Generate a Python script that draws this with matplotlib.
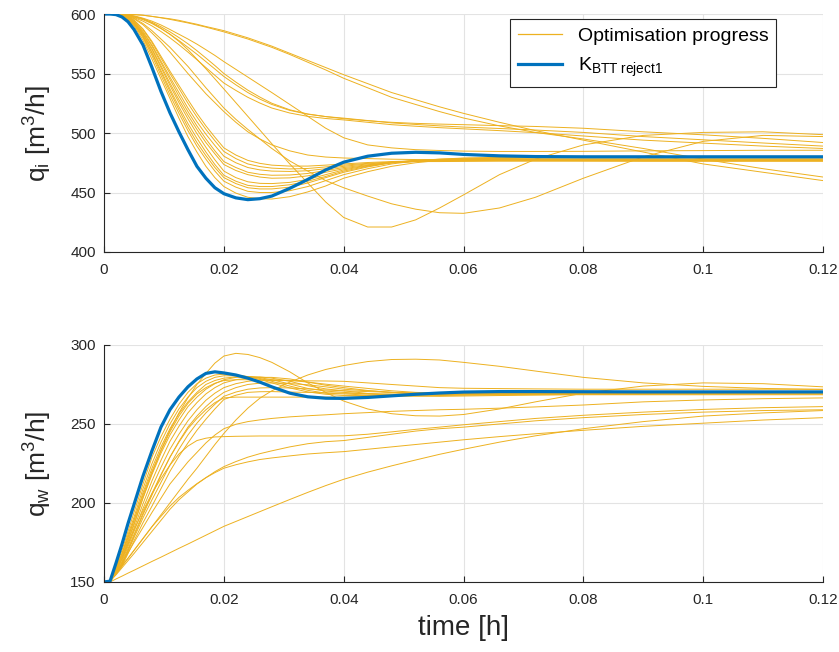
import numpy as np
import matplotlib
matplotlib.use("Agg")
import matplotlib.pyplot as plt

plt.rcParams["font.family"] = ["Liberation Sans", "DejaVu Sans"]
plt.rcParams["mathtext.fontset"] = "custom"
plt.rcParams["mathtext.rm"] = "Liberation Sans"
plt.rcParams["mathtext.it"] = "Liberation Sans"

ORANGE = "#EDB120"
BLUE = "#0072BD"
INK = "#262626"

# sample times [h]
t = [0, 0.001, 0.002, 0.003, 0.004, 0.005, 0.0065, 0.008, 0.0095, 0.011,
     0.0125, 0.014, 0.0155, 0.017, 0.0185, 0.020, 0.022, 0.024, 0.026, 0.028,
     0.031, 0.034, 0.037, 0.040, 0.044, 0.048, 0.052, 0.056, 0.060, 0.066,
     0.072, 0.080, 0.090, 0.100, 0.110, 0.120]

# q_i [m3/h] -- intermediate controllers seen during optimisation
qi_fast = [
    [600, 600, 599.5, 598, 595, 590, 578, 562, 545.5, 529, 512.5, 497, 484, 472, 462.5, 455, 449.5, 446, 444.8, 444.5,
     446.5, 450.5, 455.5, 462, 467.5, 472, 475, 477, 478, 479, 479.7, 480, 480, 480, 480, 480],
    [600, 600, 599.6, 598.5, 595.5, 591, 580, 565, 548.5, 532, 516.5, 502, 489, 478, 468, 459.5, 454.5, 451, 450, 450,
     451.5, 455, 460, 465, 470, 474, 476.5, 478, 479, 479.5, 480, 480, 480, 480, 480, 480],
    [600, 600, 599.6, 598.5, 595.8, 591.5, 581, 567, 551, 535, 519.5, 505, 492, 481, 471, 462.5, 457.5, 454, 453, 453,
     454.5, 458, 462.5, 467, 471.5, 475, 477, 478, 478.7, 479, 479.3, 479.5, 479.5, 479.5, 479.5, 479.5],
    [600, 600, 599.7, 599, 596.3, 592, 582, 568, 552.5, 537, 522, 508, 495.5, 484, 473.5, 464.5, 459.5, 456, 455, 455,
     456.5, 459.5, 463.5, 468, 472, 475, 476.8, 477.5, 478, 478.5, 478.8, 479, 479, 479, 479, 479],
    [600, 600, 599.7, 599, 596.5, 592.5, 583, 570, 555, 540, 525.5, 512, 499.5, 488, 477.5, 468, 462.5, 459, 457.7, 457.5,
     458.5, 461, 465, 469, 472.5, 475.5, 476.8, 477.5, 477.8, 478, 478, 478, 478, 478, 478, 478],
    [600, 600, 599.7, 599, 596.8, 593, 583.5, 571, 556.5, 542, 528, 515, 503, 492, 482.5, 473.5, 468.5, 465, 463, 462,
     462.3, 464, 467, 470, 472.8, 475, 476.2, 477, 477.3, 477.5, 477.5, 477.3, 477, 477, 477, 477],
    [600, 600, 599.8, 599.5, 597, 593.5, 584.5, 573, 559, 545, 531, 518, 506, 495, 485, 476, 471, 467, 465.3, 464.5,
     464.7, 466, 468.5, 471, 473.3, 475, 476, 476.5, 476.8, 477, 477, 476.8, 476.5, 476.5, 476.5, 476.5],
    [600, 600, 599.8, 599.5, 597.3, 594, 585.5, 574, 560.5, 547, 534, 521, 509.5, 499, 489.5, 480.5, 475, 471, 469, 468,
     467.7, 468.3, 470, 472, 474, 475.5, 476.2, 476.5, 476.5, 476.5, 476.5, 476.5, 476.5, 476.5, 476.5, 476.5],
    [600, 600, 599.8, 599.5, 597.5, 594.5, 587, 576, 563, 550, 537.5, 525, 513.5, 503, 493.5, 484.5, 478.5, 474, 471.8, 470.5,
     469.8, 470.2, 471.5, 473, 474.5, 475.5, 476, 476, 476.2, 476.5, 476.5, 476.5, 476.5, 476.5, 476.5, 476.5],
    [600, 600, 599.8, 599.5, 597.8, 595, 587.5, 577, 564.5, 552, 540, 528, 516.5, 506, 496.5, 487.5, 481.5, 477, 474.5, 473,
     472.2, 472.2, 473, 474, 475.2, 476, 476.6, 477, 477.3, 477.6, 477.8, 478, 478, 478, 478, 478],
    [600, 600, 599.7, 599, 597.8, 596, 591, 584, 576.5, 568, 559, 550, 541.5, 533, 525.5, 518, 509, 501, 495, 490,
     485, 481.5, 479.8, 479, 478.5, 478, 477.7, 477.5, 477.5, 477.5, 477.5, 477.5, 477.5, 477.5, 477.5, 477.5],
]
qi_mid = [
    [600, 600, 599.9, 599.7, 599.2, 598.5, 596.5, 594, 590.8, 587, 583, 579, 574.7, 570, 565.2, 560, 553.5, 547, 540.5, 534,
     524, 514, 504, 496, 490, 487.5, 486, 485.3, 484.8, 484.5, 484.5, 484.6, 485, 485.2, 485.5, 485.5],
    [600, 600, 599.8, 599.5, 599, 598, 596, 593, 589.3, 585, 580.2, 575, 569.2, 563, 556.7, 550, 542.8, 536, 530.2, 525,
     519.5, 516, 513.8, 512, 510.3, 509, 508.1, 507.5, 507, 506.2, 505.5, 504, 501, 498.5, 495.5, 492],
    [600, 600, 599.8, 599.5, 598.7, 597.5, 595.2, 592, 587.8, 583, 577.7, 572, 566.2, 560, 553.8, 547.5, 540.5, 534, 528.5, 524,
     519, 515.8, 513.8, 512.5, 510.5, 508.5, 507.2, 506, 505, 503.8, 502.5, 500.5, 497, 494.3, 491.6, 489],
    [600, 600, 599.8, 599.5, 598.5, 597, 594, 590, 585.3, 580, 574.2, 568, 561.6, 555, 548.5, 542, 535.8, 530, 525.2, 521,
     516.8, 514, 512.2, 511, 509, 507, 505.7, 504.5, 503.5, 502, 500.3, 497.5, 494, 491.5, 489, 487],
]
qi_slow = [
    [600, 600, 600, 600, 599.8, 599.5, 599, 598, 597, 596, 594.7, 593, 591.4, 589.5, 587.8, 586, 583, 580, 576.5, 573,
     567, 561, 555, 549, 541.5, 534, 528, 522, 516.5, 509, 502, 494, 484, 474, 467, 460],
    [600, 600, 600, 600, 599.8, 599.5, 599, 598, 596.8, 595.5, 594, 592.5, 590.8, 589, 587, 585, 582, 579, 575.5, 572,
     566, 559.5, 553, 546, 538, 530, 524, 518, 512.6, 506, 500.5, 495, 487, 478, 470, 463],
    [600, 600, 599.8, 599.5, 598.9, 598, 596, 592.5, 588, 583, 577, 570, 562, 554, 545.5, 537, 525.5, 514, 502.5, 491,
     474, 458, 442, 429, 421, 421, 427, 437, 448, 465, 478, 490, 498, 500.5, 501, 498.6],
    [600, 600, 599.8, 599, 598, 596.5, 592, 586, 579, 572, 564, 556, 547, 538, 529.5, 521, 511.5, 503, 495, 487,
     476.5, 468, 460, 454, 447, 440.5, 436, 433, 432.5, 437, 446, 462, 480, 493, 498, 497],
]
qi_best = [600, 600, 599.5, 597.5, 593.5, 587, 574, 555, 535, 517, 501, 486, 472, 462, 454, 449, 445.5, 444, 444.8, 447,
           453.5, 461, 469, 475.5, 480.5, 483, 483.8, 483.3, 482, 480.8, 480.2, 480, 480, 480, 480, 480]

# q_w [m3/h]
qw_fast = [
    [150, 150.5, 160, 170, 182, 194, 212, 229, 242, 253, 262.5, 270, 275.5, 279, 281, 281.5, 281, 280, 278.2, 276,
     272.8, 270.3, 268.8, 268, 268, 268.5, 269, 269.5, 269.8, 270, 270, 270, 270, 270, 270, 270],
    [150, 150.5, 159, 168, 180, 191, 209, 225, 238.5, 250, 259.5, 267, 273, 277, 279.5, 280.5, 280.5, 280, 278.8, 277,
     274, 271.3, 269.5, 269, 268.3, 268, 268.2, 268.5, 268.8, 269, 269.3, 269.5, 269.5, 269.5, 269.5, 269.5],
    [150, 150.5, 158.5, 167, 178, 189, 206.5, 222, 235.5, 247, 256.5, 264, 270, 275, 277.5, 279, 279.8, 280, 279.3, 278,
     275.3, 272.5, 270.8, 270, 269, 268.5, 268.5, 268.5, 268.8, 269, 269.3, 269.6, 270, 270, 270, 270],
    [150, 150.5, 157.5, 165, 175.5, 186, 203, 218, 231.5, 243, 252.5, 261, 267, 272, 275.5, 278, 279.5, 280, 279.8, 279,
     277, 274.2, 272.2, 271, 269.3, 268, 267.6, 267.5, 267.7, 268, 268.3, 268.7, 269, 269.5, 269.8, 270],
    [150, 150.5, 157, 164, 174, 184, 199.5, 214, 227, 239, 248.5, 257, 263.5, 269, 273, 276, 278, 279, 279.5, 279.5,
     278.5, 276.5, 274.5, 273, 271.2, 270, 269, 268.5, 268.5, 268.5, 268.8, 269.2, 269.5, 270, 270, 270],
    [150, 150.5, 156.5, 163, 172.5, 182, 196.5, 210, 222.5, 234, 243.5, 252, 259, 265, 269.5, 273, 275.5, 277, 277.8, 278,
     277.6, 276.5, 275.2, 274, 272.5, 271, 270, 269.5, 269.2, 269, 269, 269, 269.5, 270, 270, 270],
    [150, 150.5, 156, 162, 171, 180, 193.5, 206, 218, 229, 239, 248, 255, 261, 266, 270, 273, 275, 275.8, 276,
     275.6, 274.8, 273.5, 272, 271, 270, 269.5, 269, 269, 269, 269, 269, 269, 269.5, 269.8, 270],
    [150, 150.5, 155.5, 161, 169.5, 178, 190.5, 202, 213, 224, 234, 243, 250.5, 257, 262.5, 267.5, 270.2, 272, 272.8, 273,
     272.8, 272.2, 271.5, 271, 270.5, 270, 269.7, 269.5, 269.3, 269, 269, 269, 269, 269, 269, 269],
    [150, 150.5, 155, 160, 168, 176, 187.5, 198, 209, 220, 229.5, 238, 246, 253, 259.5, 265.5, 268.2, 270, 270.4, 270.5,
     270.2, 270, 269.7, 269.5, 269.2, 269, 269, 269, 269, 269, 269, 269, 269, 269, 269, 269],
    [150, 150.5, 155.5, 161, 170, 179, 192.5, 205, 217.5, 229, 238.5, 247, 253.5, 259, 263.5, 266.5, 267, 267, 267, 267,
     267, 267, 267, 267, 267.2, 267.5, 267.8, 268, 268.2, 268.5, 268.5, 268.5, 268.5, 268.5, 268.5, 268.5],
    [150, 150.5, 158, 166, 176.5, 187, 203.5, 219, 233, 245, 255, 263, 269, 273, 275.8, 277.5, 278, 278, 277.8, 277.5,
     277.5, 277.3, 277.2, 277, 276, 275, 274, 273, 272.6, 272.4, 272.2, 272, 272, 272, 272, 272],
    [150, 150.5, 159, 168, 178.5, 189, 205, 220, 233.5, 246, 257, 266.5, 275, 282, 288.5, 293, 294.7, 294, 292, 289,
     283, 276, 270, 264.5, 259.5, 256.5, 255.2, 255, 256, 259.5, 264, 269.5, 274, 276, 275.5, 273.5],
]
qw_slow = [
    [150, 150.5, 155.5, 160.5, 165, 170, 177.5, 185, 192.5, 200, 207.5, 215, 222, 229.5, 237, 244, 252.5, 260, 266.3, 271,
     276.5, 281, 284.5, 287, 289.5, 290.8, 291, 290.5, 289, 286.5, 283.5, 279.5, 276, 273.8, 272.5, 271.8],
    [150, 150.5, 156, 162, 168.5, 175, 184.5, 194, 203, 212, 219, 226, 232, 238, 243, 247, 249.8, 251.5, 252.6, 253.5,
     254.5, 255.2, 255.8, 256.5, 257.2, 258, 258.5, 259, 259.3, 260, 260.8, 262, 264, 265.2, 266, 266.5],
    [150, 150.5, 157.5, 165, 174, 183, 195, 206, 215.5, 224, 231, 236, 239.5, 241, 241.8, 242, 242.2, 242.3, 242.4, 242.4,
     242.4, 242.4, 242.4, 242.5, 243.5, 245, 246.6, 248, 249.5, 251.5, 253.5, 255.5, 257.5, 259.2, 260.3, 261],
    [150, 150.5, 154.5, 159, 163.5, 168, 175, 182, 189, 196, 202, 207, 212, 216, 219.8, 223, 226.2, 229, 231.2, 233,
     235.5, 237.5, 238.8, 239.5, 241.5, 243.5, 245.5, 247, 248, 250, 252, 254, 256, 257.5, 258.5, 259],
    [150, 150.5, 155, 160, 165, 170, 177.5, 185, 191.5, 198, 203.5, 208, 212.2, 216, 219.2, 222, 224.2, 226, 227.5, 228.5,
     229.8, 231, 231.8, 232.5, 234, 235.5, 237, 238.5, 240, 242, 243.8, 246, 248.5, 250.5, 252.5, 254],
    [150, 150, 151.9, 153.7, 155.6, 157.4, 160.2, 163, 165.7, 168.5, 171.3, 174, 176.8, 179.6, 182.4, 185.2, 188.3, 191.4, 194.5, 197.6,
     202.2, 206.7, 211, 215, 219.5, 223.5, 227.2, 230.8, 234, 238.5, 242.5, 247, 251.5, 255, 257, 258.5],
]
qw_best = [150, 150.5, 162, 174, 187, 199, 217, 233, 248, 259, 267, 273.5, 278.5, 282, 283, 282.3, 281, 279, 276.5, 273.5,
           269.5, 267.2, 266.3, 266.2, 266.8, 267.8, 268.8, 269.6, 270.2, 270.5, 270.5, 270.4, 270.3, 270.3, 270.3, 270.3]

xticks = [0, 0.02, 0.04, 0.06, 0.08, 0.1, 0.12]
xticklabels = ["0", "0.02", "0.04", "0.06", "0.08", "0.1", "0.12"]


def style_axes(ax, ylim, yticks):
    ax.set_xlim(0, 0.12)
    ax.set_ylim(*ylim)
    ax.set_xticks(xticks)
    ax.set_xticklabels(xticklabels)
    ax.set_yticks(yticks)
    ax.grid(True, color="#e3e3e3", linewidth=0.8)
    ax.set_axisbelow(True)
    for side in ("top", "right"):
        ax.spines[side].set_visible(False)
    for side in ("left", "bottom"):
        ax.spines[side].set_color(INK)
        ax.spines[side].set_linewidth(0.8)
    ax.tick_params(direction="in", length=4, width=0.8, colors=INK, labelsize=11)
    ax.tick_params(axis="x", pad=8)
    ax.tick_params(axis="y", pad=6)


fig = plt.figure(figsize=(8.39, 6.52), dpi=100)
ax1 = fig.add_axes([0.124, 0.6135, 0.857, 0.365])
ax2 = fig.add_axes([0.124, 0.1074, 0.857, 0.3635])

for row in qi_fast + qi_mid + qi_slow:
    ax1.plot(t, row, color=ORANGE, linewidth=0.7)
ax1.plot(t, qi_best, color=BLUE, linewidth=2.3, solid_joinstyle="round")

for row in qw_fast + qw_slow:
    ax2.plot(t, row, color=ORANGE, linewidth=0.7)
ax2.plot(t, qw_best, color=BLUE, linewidth=2.3, solid_joinstyle="round")

style_axes(ax1, (400, 600), [400, 450, 500, 550, 600])
style_axes(ax2, (150, 300), [150, 200, 250, 300])

ax1.set_ylabel(r"$\mathrm{q_i\ [m^3/h]}$", fontsize=19, color=INK)
ax2.set_ylabel(r"$\mathrm{q_w\ [m^3/h]}$", fontsize=19, color=INK)
ax1.yaxis.set_label_coords(-0.07, 0.5)
ax2.yaxis.set_label_coords(-0.07, 0.5)
ax2.set_xlabel("time [h]", fontsize=20, color=INK, labelpad=6)

handles = [
    plt.Line2D([], [], color=ORANGE, linewidth=0.9),
    plt.Line2D([], [], color=BLUE, linewidth=2.3),
]
leg = ax1.legend(handles, ["Optimisation progress", r"$\mathrm{K_{BTT\ reject1}}$"],
                 loc="upper right", bbox_to_anchor=(0.935, 0.977),
                 fontsize=14, frameon=True, fancybox=False, framealpha=1,
                 edgecolor=INK, handlelength=2.3, borderaxespad=0,
                 labelspacing=0.55, borderpad=0.4)
leg.get_frame().set_linewidth(0.8)

fig.savefig("out.png", dpi=100)
